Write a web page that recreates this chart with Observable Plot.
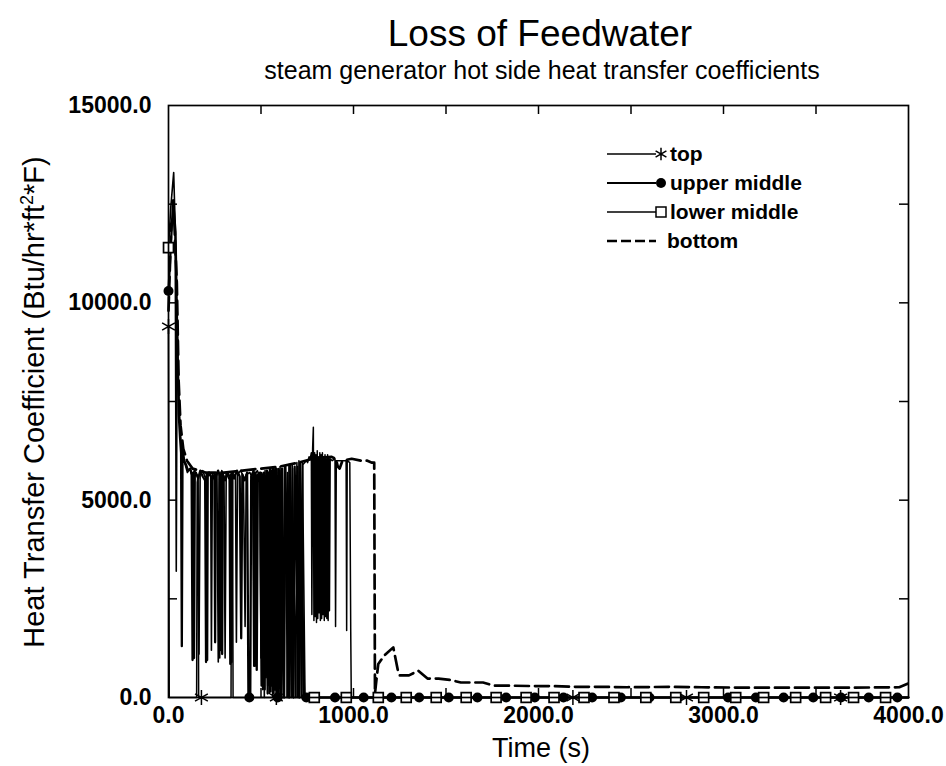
<!DOCTYPE html>
<html><head><meta charset="utf-8">
<script src="https://cdn.jsdelivr.net/npm/d3@7"></script>
<script src="https://cdn.jsdelivr.net/npm/@observablehq/plot@0.6"></script>
<style>
body{margin:0;background:#fff;}
#wrap{position:relative;width:946px;height:766px;overflow:hidden;background:#fff;}
#wrap svg{position:absolute;left:0;top:0;}
</style></head><body>
<div id="wrap"></div>
<script>
// ---- text ----
const titleText = "Loss of Feedwater";
const subtitleText = "steam generator hot side heat transfer coefficients";
const xTitle = "Time (s)";
const yTitleMain = "Heat Transfer Coefficient (Btu/hr*ft";
const yTitleSup = "2";
const yTitleEnd = "*F)";
const seriesNames = ["top", "upper middle", "lower middle", "bottom"];

// ---- axes ----
const xDomain = [0, 4000];
const yDomain = [0, 15000];
const xTickValues = [0, 1000, 2000, 3000, 4000];
const yTickValues = [0, 5000, 10000, 15000];
const xMinorTicks = [500, 1000, 1500, 2000, 2500, 3000, 3500];
const yMinorTicks = [2500, 5000, 7500, 10000, 12500];

// ---- series: [time (s), coefficient] ----
const topPoints = [[0,9400],[4,0],[152,0],[155,5450],[160,5600],[163,0],[338,0],[341,5400],[346,5500],[349,0],
 [640,0],[643,5700],[646,0],[668,0],[671,5800],[674,0],[695,0],[698,5850],[701,0],[722,0],[726,5900],
 [745,6000],[752,5950],[760,6100],[766,6050],[772,6200],[775,2100],[779,6300],[783,6850],[786,1950],
 [790,6200],[793,2050],[797,6150],[800,1900],[804,6250],[807,2000],[811,6100],[814,2150],[818,6200],[821,1950],
 [825,6150],[828,2000],[832,6200],[835,2100],[839,6100],[842,1950],[846,6150],[849,2050],[853,6050],[856,2000],
 [860,6150],[863,1950],[867,6100],[870,2200],[874,6050],[885,6000],[900,6050],[903,1800],[907,6000],
 [960,6000],[963,1700],[966,6000],[980,5950],[985,1700],[988,0],[4000,0]];

const upperPoints = [[0,10300],[10,11200],[25,12600],[38,11800],[48,9000],[55,7200],[62,6600],[68,6200],[72,1300],[76,6300],
 [85,6000],[95,5900],[105,5750],[118,5800],[125,5650],[130,950],[134,5700],[138,1000],[142,5600],[148,5700],[160,5550],[172,5750],
 [185,5600],[198,5500],[203,900],[206,5650],[209,950],[212,5600],[220,5700],[235,5550],[248,5650],[252,1400],[256,5600],[268,5750],
 [280,5600],[283,1200],[287,5700],[290,1100],[294,5650],[305,5500],[318,5700],[330,5600],[334,850],[338,5650],[341,900],[345,5650],[355,5550],[370,5750],
 [385,5600],[393,1500],[399,5650],[412,5500],[425,5700],[432,0],[442,0],[447,5600],[460,5750],[465,800],[469,5700],[472,5600],
 [477,700],[483,5650],[495,5700],[503,300],[507,5650],[511,400],[516,5700],[520,200],[524,5600],[528,600],
 [532,5750],[536,100],[540,5700],[544,400],[548,5800],[552,150],[556,5750],[560,300],[564,5800],[568,100],[572,5750],[577,200],[581,5800],[584,0],[595,0],[600,5750],[608,0],
 [614,5800],[625,0],[632,5850],[652,0],[658,5900],[676,0],[682,5850],[707,0],[712,5950],[733,0],[4000,0]];

const lowerPoints = [[0,11400],[12,12400],[28,13300],[36,12000],[42,3200],[47,9500],[55,7800],[64,6700],[75,6100],[90,5900],
 [102,5700],[115,5800],[128,5600],[140,5750],[158,5600],[165,1100],[171,5650],[185,5750],[200,5550],[215,5700],
 [228,5600],[232,1200],[237,5650],[250,5500],[262,5700],[269,900],[273,5650],[277,1000],[281,5600],[288,5750],[300,5600],[306,1000],
 [312,5700],[325,5550],[345,5700],[362,5600],[367,1400],[373,5650],[390,5750],[405,5600],[414,1800],[420,5650],
 [440,5700],[455,5550],[461,800],[467,5650],[480,5750],[494,5600],[500,1000],[504,5700],[509,200],[513,5650],[518,0],
 [522,5750],[527,500],[531,5700],[536,300],[540,5700],[545,100],[549,5750],[554,500],[558,5750],[563,0],
 [567,5800],[572,300],[576,5800],[581,600],[585,5800],[590,0],[594,5800],[599,400],[603,5850],[620,0],
 [627,5850],[645,0],[651,5900],[663,0],[669,5900],[688,0],[694,5950],[700,0],[705,6000],[718,0],
 [724,5950],[738,0],[4000,0]];

const bottomPoints = [[0,9800],[15,12000],[30,12200],[45,10500],[55,8000],[65,6900],[80,6300],[100,6000],[130,5800],
 [200,5700],[300,5700],[400,5750],[500,5800],[600,5850],[700,5950],[780,6050],[880,6100],[905,6050],[915,5850],
 [925,5800],[940,6000],[990,6050],[1040,6000],[1075,6000],[1100,5950],[1112,5950],[1116,100],[1124,450],[1134,850],
 [1166,1060],[1215,1270],[1240,680],[1250,560],[1300,560],[1350,680],[1400,480],[1460,480],[1528,440],[1580,380],
 [1700,380],[1760,300],[1840,300],[1960,290],[2080,290],[2190,270],[2340,270],[2480,260],[2715,270],[2880,260],
 [3100,250],[3400,250],[3700,250],[3950,260],[3995,350]];

// ---- marker positions ----
const topMarkers = [[0,9400],[178,0],[583,0],[2186,0],[2800,0],[3633,0]];
const upperMarkers = [[0,10300],[437,0],[590,0],[745,0],[900,0],[1055,0],[1205,0],[1355,0],[1515,0],[1670,0],
 [1825,0],[1980,0],[2135,0],[2290,0],[2445,0],[2600,0],[2750,0],[2890,0],[3025,0],[3175,0],[3325,0],
 [3485,0],[3635,0],[3785,0],[3940,0]];
const lowerMarkers = [[0,11400],[788,0],[961,0],[1134,0],[1285,0],[1447,0],[1609,0],[1771,0],[1933,0],[2084,0],
 [2246,0],[2408,0],[2580,0],[2742,0],[2893,0],[3066,0],[3217,0],[3390,0],[3552,0],[3703,0],[3876,0]];

// ---- build ----
const toRows = arr => arr.map(([t, v]) => ({t, v}));
const W = 946, H = 766, mL = 168, mR = 38, mT = 105, mB = 69;
const innerW = W - mL - mR, innerH = H - mT - mB;
const FONT = "'Liberation Sans', Arial, Helvetica, sans-serif";

const chart = Plot.plot({
  width: W, height: H,
  marginLeft: mL, marginRight: mR, marginTop: mT, marginBottom: mB,
  style: {fontFamily: FONT, fontSize: "23px", color: "#000", background: "#fff", overflow: "visible"},
  x: {domain: xDomain, label: null},
  y: {domain: yDomain, label: null},
  marks: [
    Plot.line(toRows(bottomPoints), {x: "t", y: "v", stroke: "#000", strokeWidth: 2.7, strokeDasharray: "14,6"}),
    Plot.line(toRows(lowerPoints), {x: "t", y: "v", stroke: "#000", strokeWidth: 1.6}),
    Plot.line(toRows(upperPoints), {x: "t", y: "v", stroke: "#000", strokeWidth: 2.3}),
    Plot.line(toRows(topPoints), {x: "t", y: "v", stroke: "#000", strokeWidth: 1.5}),
    Plot.dot(toRows(upperMarkers), {x: "t", y: "v", symbol: "circle", r: 5, fill: "#000", stroke: "none"}),
    Plot.dot(toRows(lowerMarkers), {x: "t", y: "v", symbol: "square", r: 5.6, fill: "#fff", stroke: "#000", strokeWidth: 1.7}),
    Plot.dot(toRows(topMarkers), {x: "t", y: "v", symbol: "asterisk", r: 7, stroke: "#000", strokeWidth: 1.5}),
    Plot.frame({stroke: "#000", strokeWidth: 1.7}),
    Plot.tickX(xMinorTicks, {x: d => d, insetTop: innerH - 9, strokeWidth: 1.5}),
    Plot.tickX(xMinorTicks, {x: d => d, insetBottom: innerH - 9, strokeWidth: 1.5}),
    Plot.tickY(yMinorTicks, {y: d => d, insetRight: innerW - 9, strokeWidth: 1.5}),
    Plot.tickY(yMinorTicks, {y: d => d, insetLeft: innerW - 9, strokeWidth: 1.5}),
    Plot.axisX({ticks: xTickValues, tickSize: 0, tickPadding: 9, tickFormat: d => d.toFixed(1), fontWeight: "bold", label: null}),
    Plot.axisY({ticks: yTickValues, tickSize: 0, tickPadding: 17, tickFormat: d => d.toFixed(1), fontWeight: "bold", label: null})
  ]
});
const wrap = document.getElementById("wrap");
wrap.appendChild(chart);

// ---- overlay: titles, axis titles, legend ----
const ov = d3.select(wrap).append("svg")
  .attr("width", W).attr("height", H)
  .style("pointer-events", "none")
  .attr("font-family", FONT).attr("fill", "#000");

ov.append("text").attr("x", 540).attr("y", 46).attr("text-anchor", "middle")
  .attr("font-size", 37).text(titleText);
ov.append("text").attr("x", 542).attr("y", 79).attr("text-anchor", "middle")
  .attr("font-size", 25).text(subtitleText);
ov.append("text").attr("x", 541).attr("y", 757).attr("text-anchor", "middle")
  .attr("font-size", 27).text(xTitle);
const yt = ov.append("text").attr("transform", "translate(44,402) rotate(-90)")
  .attr("text-anchor", "middle").attr("font-size", 29);
yt.append("tspan").text(yTitleMain);
yt.append("tspan").attr("dy", -11).attr("font-size", 18).text(yTitleSup);
yt.append("tspan").attr("dy", 11).text(yTitleEnd);

const legendY0 = 154, legendStep = 29, lx0 = 607, lx1 = 656;
const leg = ov.append("g");
seriesNames.forEach((name, i) => {
  const y = legendY0 + i * legendStep;
  const g = leg.append("g");
  if (i === 3) {
    g.append("line").attr("x1", lx0).attr("x2", lx1).attr("y1", y).attr("y2", y)
      .attr("stroke", "#000").attr("stroke-width", 2.7).attr("stroke-dasharray", "10,4");
  } else {
    g.append("line").attr("x1", lx0).attr("x2", lx1).attr("y1", y).attr("y2", y)
      .attr("stroke", "#000").attr("stroke-width", i === 1 ? 2 : 1.3);
  }
  const sx = lx1 + 5;
  if (i === 0) {
    g.append("path").attr("d", d3.symbol(d3.symbolAsterisk, 110)()).attr("transform", `translate(${sx},${y})`)
      .attr("stroke", "#000").attr("stroke-width", 1.5).attr("fill", "none");
  } else if (i === 1) {
    g.append("circle").attr("cx", sx).attr("cy", y).attr("r", 5).attr("fill", "#000");
  } else if (i === 2) {
    g.append("rect").attr("x", sx - 5).attr("y", y - 5).attr("width", 10).attr("height", 10)
      .attr("fill", "#fff").attr("stroke", "#000").attr("stroke-width", 1.5);
  }
  g.append("text").attr("x", i === 3 ? lx1 + 11 : sx + 9).attr("y", y + 7)
    .attr("font-size", 21).attr("font-weight", "bold").text(name);
});
</script>
</body></html>
